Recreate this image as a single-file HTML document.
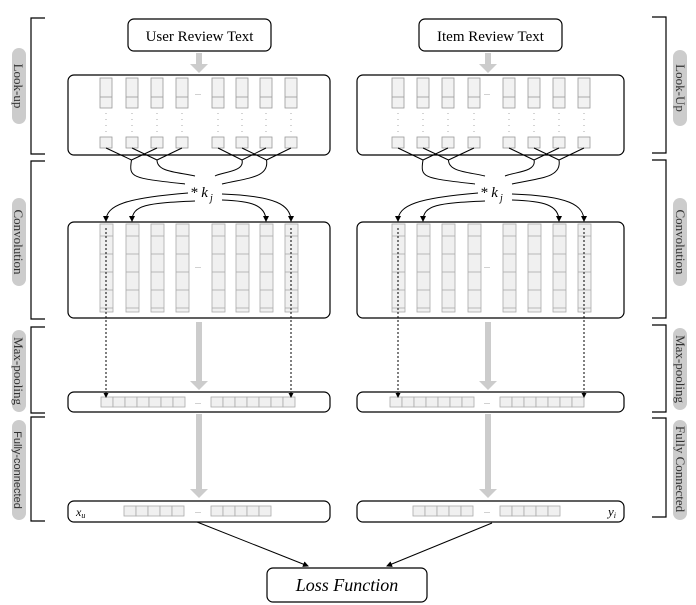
<!DOCTYPE html>
<html><head><meta charset="utf-8"><style>
html,body{margin:0;padding:0;background:#fff;}
svg{display:block;font-family:"Liberation Serif",serif;}
</style></head><body>
<svg id="s" width="696" height="605" viewBox="0 0 696 605" xmlns="http://www.w3.org/2000/svg">
<defs>
<marker id="ah" markerWidth="6" markerHeight="6" refX="5" refY="3" orient="auto"><path d="M0,0 L6,3 L0,6 z" fill="#000"/></marker>
<marker id="ad" markerWidth="5" markerHeight="5" refX="4" refY="2.5" orient="auto"><path d="M0,0 L5,2.5 L0,5 z" fill="#000"/></marker>
</defs>
<g id="g"></g>
<!-- brackets -->
<g stroke="#000" stroke-width="1.2" fill="none">
<path d="M45,18 H31 V154 H45"/><path d="M45,161 H31 V319 H45"/><path d="M45,327 H31 V413 H45"/><path d="M45,417 H31 V521 H45"/>
<path d="M652,17 H666 V153 H652"/><path d="M652,160 H666 V318 H652"/><path d="M652,325 H666 V412 H652"/><path d="M652,418 H666 V517 H652"/>
</g>
<!-- side labels -->
<g font-size="13" fill="#333">
<rect x="12" y="48" width="14" height="76" rx="7" fill="#ccc"/>
<text transform="translate(14,86) rotate(90)" text-anchor="middle">Look-up</text>
<rect x="12" y="198" width="14" height="88" rx="7" fill="#ccc"/>
<text transform="translate(14,242) rotate(90)" text-anchor="middle">Convolution</text>
<rect x="12" y="330" width="14" height="82" rx="7" fill="#ccc"/>
<text transform="translate(14,371) rotate(90)" text-anchor="middle">Max-pooling</text>
<rect x="12" y="420" width="14" height="100" rx="7" fill="#ccc"/>
<text transform="translate(14,470) rotate(90)" text-anchor="middle" font-family="Liberation Sans,sans-serif" font-size="11">Fully-connected</text>
<rect x="673" y="50" width="14" height="76" rx="7" fill="#ccc"/>
<text transform="translate(676,88) rotate(90)" text-anchor="middle">Look-Up</text>
<rect x="673" y="198" width="14" height="88" rx="7" fill="#ccc"/>
<text transform="translate(676,242) rotate(90)" text-anchor="middle">Convolution</text>
<rect x="673" y="328" width="14" height="82" rx="7" fill="#ccc"/>
<text transform="translate(676,369) rotate(90)" text-anchor="middle">Max-pooling</text>
<rect x="673" y="420" width="14" height="100" rx="7" fill="#ccc"/>
<text transform="translate(676,469) rotate(90)" text-anchor="middle">Fully Connected</text>
</g>
<!-- top boxes -->
<rect x="128" y="19" width="143" height="32" rx="6" fill="#fff" stroke="#000" stroke-width="1.2"/>
<text x="199.5" y="41" font-size="15" text-anchor="middle">User Review Text</text>
<rect x="419" y="19" width="143" height="32" rx="6" fill="#fff" stroke="#000" stroke-width="1.2"/>
<text x="490.5" y="41" font-size="15" text-anchor="middle">Item Review Text</text>
<!-- loss -->
<rect x="267" y="568" width="160" height="34" rx="6" fill="#fff" stroke="#000" stroke-width="1.2"/>
<text x="347" y="591" font-size="18" font-style="italic" text-anchor="middle">Loss Function</text>
<line x1="197" y1="522" x2="308" y2="566" stroke="#000" marker-end="url(#ah)"/>
<line x1="492" y1="523" x2="387" y2="566" stroke="#000" marker-end="url(#ah)"/>
<!-- kj labels -->
<text x="190" y="197" font-size="15" font-style="italic">* k</text><text x="210" y="201" font-size="10" font-style="italic">j</text>
<text x="480" y="197" font-size="15" font-style="italic">* k</text><text x="500" y="201" font-size="10" font-style="italic">j</text>
<text x="76" y="516" font-size="12" font-style="italic">x<tspan font-size="8" dy="2">u</tspan></text>
<text x="608" y="516" font-size="13" font-style="italic">y<tspan font-size="8" dy="2">i</tspan></text>
<script>
var g=document.getElementById('g'),NS='http://www.w3.org/2000/svg';
function el(t,a){var e=document.createElementNS(NS,t);for(var k in a)e.setAttribute(k,a[k]);g.appendChild(e);return e;}
function side(o,cx,L,R,cols,kx){
 // grey arrows
 function garrow(y1,y2){el('rect',{x:cx-3,y:y1,width:6,height:y2-y1-8,fill:'#ccc'});el('path',{d:'M'+(cx-9)+','+(y2-9)+' L'+(cx+9)+','+(y2-9)+' L'+cx+','+y2+'z',fill:'#ccc'});}
 garrow(53,73);garrow(322,390);garrow(414,498);
 el('rect',{x:L,y:75,width:R-L,height:80,rx:6,fill:'none',stroke:'#000','stroke-width':1.2});
 el('rect',{x:L,y:222,width:R-L,height:96,rx:6,fill:'none',stroke:'#000','stroke-width':1.2});
 el('rect',{x:L,y:392,width:R-L,height:20,rx:6,fill:'none',stroke:'#000','stroke-width':1.2});
 el('rect',{x:L,y:501,width:R-L,height:21,rx:6,fill:'none',stroke:'#000','stroke-width':1.2});
 cols.forEach(function(c){
  el('rect',{x:c-6,y:78,width:12,height:30,fill:'#f2f2f2',stroke:'#999','stroke-width':0.8});
  el('line',{x1:c-6,y1:97,x2:c+6,y2:97,stroke:'#999','stroke-width':0.8});
  el('line',{x1:c,y1:113,x2:c,y2:132,stroke:'#aaa','stroke-dasharray':'1 5'});
  el('rect',{x:c-6,y:137,width:12,height:11,fill:'#f2f2f2',stroke:'#999','stroke-width':0.8});
  el('rect',{x:c-6,y:224,width:13,height:88,fill:'#f0f0f0',stroke:'#aaa','stroke-width':0.8});
  for(var y=236;y<310;y+=18)el('line',{x1:c-6,y1:y,x2:c+7,y2:y,stroke:'#aaa','stroke-width':0.8});
 });
 el('text',{x:cx-4,y:95,'font-size':8,fill:'#888'}).textContent='...';
 el('text',{x:cx-4,y:268,'font-size':8,fill:'#888'}).textContent='...';
 // pooled cells
 var p1=L+33;for(var i=0;i<7;i++)el('rect',{x:p1+i*12,y:397,width:12,height:10,fill:'#f0f0f0',stroke:'#aaa','stroke-width':0.8});
 var p2=cx+12;for(var i=0;i<7;i++)el('rect',{x:p2+i*12,y:397,width:12,height:10,fill:'#f0f0f0',stroke:'#aaa','stroke-width':0.8});
 var f1=L+(o?55:57),f2=cx+12;for(var i=0;i<5;i++){el('rect',{x:cx-75+i*12,y:506,width:12,height:10,fill:'#f0f0f0',stroke:'#aaa','stroke-width':0.8});el('rect',{x:f2+i*12,y:506,width:12,height:10,fill:'#f0f0f0',stroke:'#aaa','stroke-width':0.8});}
 el('text',{x:cx-4,y:404,'font-size':8,fill:'#888'}).textContent='...';
 el('text',{x:cx-4,y:513,'font-size':8,fill:'#888'}).textContent='...';
 // curves
 var c=cols,ky=190;
 function X(a,b,my){var m=(a+b)/2;el('path',{d:'M'+a+',148 L'+m+','+my+' M'+b+',148 L'+m+','+my,stroke:'#000',fill:'none'});return m;}
 var m1=X(c[0],c[2],160),m2=X(c[1],c[3],160),m3=X(c[4],c[6],160),m4=X(c[5],c[7],160);
 var st={stroke:'#000',fill:'none','stroke-width':1};
 function P(d){var a=Object.assign({d:d},st);el('path',a);}
 P('M'+m1+',160 C'+(m1-3)+',178 '+(m1)+',178 '+(kx-15)+',184');
 P('M'+m2+',160 C'+(m2)+',172 '+(m2+20)+',172 '+(kx-5)+',176');
 P('M'+m3+',160 C'+(m3+3)+',172 '+(m3-20)+',172 '+(kx+15)+',176');
 P('M'+m4+',160 C'+(m4+3)+',178 '+(m4-20)+',178 '+(kx+22)+',184');
 function A(x,sx,sy,ctrl){var a=Object.assign({d:'M'+sx+','+sy+' C'+ctrl+' '+x+',205 '+x+',221','marker-end':'url(#ah)'},st);el('path',a);}
 A(c[0],kx-12,193,(c[0]+20)+',198');
 A(c[1],kx-5,201,(c[1]+15)+',203');
 A(c[6],kx+22,200,(c[6]-15)+',201');
 A(c[7],kx+22,194,(c[7]-15)+',196');
 el('line',{x1:c[0],y1:228,x2:c[0],y2:397,stroke:'#000','stroke-dasharray':'2 2','marker-end':'url(#ad)'});
 el('line',{x1:c[7],y1:228,x2:c[7],y2:397,stroke:'#000','stroke-dasharray':'2 2','marker-end':'url(#ad)'});
}
side(0,199,68,330,[106,132,157,182,218,242,266,291],200);
side(1,488,357,624,[398,423,448,474,509,534,559,584],490);
</script>
</svg>
</body></html>
